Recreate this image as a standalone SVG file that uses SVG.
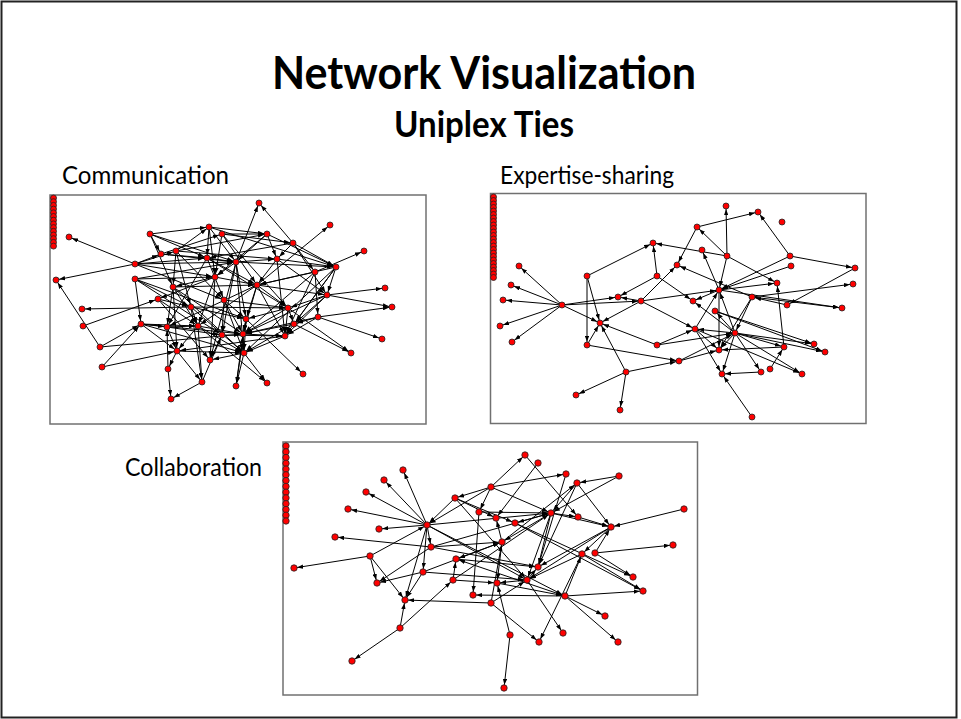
<svg xmlns="http://www.w3.org/2000/svg" width="961" height="719" viewBox="0 0 961 719">
<style>
.t{font-family:Lato,"Open Sans","Liberation Sans",sans-serif;fill:#000}
.b{font-weight:bold}
.frame{fill:none;stroke:#707070;stroke-width:1.5}
.edges line{stroke:#000;stroke-width:1;marker-end:url(#ah)}
.n{fill:#ff0000;stroke:#222;stroke-width:0.8}
</style>
<defs>
<marker id="ah" viewBox="0 0 6 4.4" refX="9.2" refY="2.2" markerWidth="6" markerHeight="4.4" markerUnits="userSpaceOnUse" orient="auto"><path d="M0,0L6,2.2L0,4.4z" fill="#000"/></marker>
</defs>
<rect x="0" y="0" width="961" height="719" fill="#fff"/>
<rect x="1.5" y="1.5" width="955" height="716" fill="none" stroke="#222" stroke-width="2"/>
<g id="titles">
<text class="t b" x="484" y="89" font-size="46" text-anchor="middle" textLength="424" lengthAdjust="spacingAndGlyphs">Network Visualization</text>
<text class="t b" x="484" y="137" font-size="36" text-anchor="middle" textLength="180" lengthAdjust="spacingAndGlyphs">Uniplex Ties</text>
<text class="t" x="62" y="184" font-size="25" textLength="167" lengthAdjust="spacingAndGlyphs">Communication</text>
<text class="t" x="500" y="184" font-size="25" textLength="174" lengthAdjust="spacingAndGlyphs">Expertise-sharing</text>
<text class="t" x="125" y="476" font-size="25" textLength="137" lengthAdjust="spacingAndGlyphs">Collaboration</text>
</g>
<g id="panel-communication">
<rect class="frame" x="50" y="195" width="376" height="229"/>
<g class="edges" id="comm-edges">
<line x1="135" y1="264" x2="69" y2="237"/><line x1="135" y1="264" x2="56" y2="280"/><line x1="100" y1="347" x2="56" y2="280"/><line x1="191" y1="307" x2="82" y2="309"/><line x1="191" y1="307" x2="288" y2="308"/>
<line x1="83" y1="326" x2="158" y2="299"/><line x1="100" y1="347" x2="141" y2="324"/><line x1="100" y1="347" x2="243" y2="334"/><line x1="102" y1="367" x2="141" y2="324"/><line x1="102" y1="367" x2="177" y2="351"/>
<line x1="236" y1="262" x2="259" y2="203"/><line x1="293" y1="243" x2="259" y2="203"/><line x1="257" y1="285" x2="330" y2="225"/><line x1="315" y1="272" x2="364" y2="251"/><line x1="327" y1="295" x2="385" y2="288"/>
<line x1="327" y1="295" x2="392" y2="307"/><line x1="318" y1="317" x2="392" y2="307"/><line x1="318" y1="317" x2="382" y2="339"/><line x1="288" y1="308" x2="351" y2="353"/><line x1="294" y1="324" x2="351" y2="353"/>
<line x1="246" y1="319" x2="303" y2="374"/><line x1="198" y1="326" x2="267" y2="383"/><line x1="168" y1="369" x2="171" y2="399"/><line x1="202" y1="382" x2="171" y2="399"/><line x1="177" y1="351" x2="168" y2="369"/>
<line x1="177" y1="351" x2="202" y2="382"/><line x1="244" y1="353" x2="236" y2="386"/><line x1="161" y1="254" x2="207" y2="258"/><line x1="161" y1="254" x2="236" y2="262"/><line x1="161" y1="254" x2="222" y2="234"/>
<line x1="176" y1="251" x2="209" y2="227"/><line x1="176" y1="251" x2="277" y2="259"/><line x1="176" y1="251" x2="267" y2="234"/><line x1="176" y1="251" x2="173" y2="287"/><line x1="176" y1="251" x2="191" y2="307"/>
<line x1="135" y1="264" x2="161" y2="254"/><line x1="135" y1="264" x2="236" y2="262"/><line x1="135" y1="264" x2="215" y2="277"/><line x1="135" y1="264" x2="224" y2="300"/><line x1="135" y1="279" x2="141" y2="324"/>
<line x1="135" y1="279" x2="236" y2="262"/><line x1="135" y1="279" x2="215" y2="277"/><line x1="135" y1="279" x2="246" y2="319"/><line x1="135" y1="279" x2="222" y2="335"/><line x1="150" y1="234" x2="161" y2="254"/>
<line x1="150" y1="234" x2="173" y2="287"/><line x1="150" y1="234" x2="236" y2="262"/><line x1="150" y1="234" x2="207" y2="258"/><line x1="209" y1="227" x2="236" y2="262"/><line x1="209" y1="227" x2="267" y2="234"/>
<line x1="209" y1="227" x2="336" y2="267"/><line x1="209" y1="227" x2="215" y2="277"/><line x1="222" y1="234" x2="267" y2="234"/><line x1="222" y1="234" x2="293" y2="243"/><line x1="222" y1="234" x2="257" y2="285"/>
<line x1="222" y1="234" x2="288" y2="308"/><line x1="267" y1="234" x2="236" y2="262"/><line x1="267" y1="234" x2="336" y2="267"/><line x1="267" y1="234" x2="215" y2="277"/><line x1="293" y1="243" x2="277" y2="259"/>
<line x1="293" y1="243" x2="207" y2="258"/><line x1="293" y1="243" x2="315" y2="272"/><line x1="293" y1="243" x2="327" y2="295"/><line x1="207" y1="258" x2="236" y2="262"/><line x1="207" y1="258" x2="257" y2="285"/>
<line x1="207" y1="258" x2="167" y2="327"/><line x1="207" y1="258" x2="288" y2="308"/><line x1="236" y1="262" x2="277" y2="259"/><line x1="236" y1="262" x2="336" y2="267"/><line x1="236" y1="262" x2="215" y2="277"/>
<line x1="236" y1="262" x2="246" y2="319"/><line x1="236" y1="262" x2="210" y2="360"/><line x1="236" y1="262" x2="244" y2="353"/><line x1="277" y1="259" x2="336" y2="267"/><line x1="277" y1="259" x2="257" y2="285"/>
<line x1="277" y1="259" x2="327" y2="295"/><line x1="277" y1="259" x2="285" y2="336"/><line x1="336" y1="267" x2="327" y2="295"/><line x1="336" y1="267" x2="257" y2="285"/><line x1="336" y1="267" x2="294" y2="324"/>
<line x1="336" y1="267" x2="285" y2="336"/><line x1="336" y1="267" x2="244" y2="353"/><line x1="315" y1="272" x2="257" y2="285"/><line x1="315" y1="272" x2="318" y2="317"/><line x1="315" y1="272" x2="243" y2="334"/>
<line x1="215" y1="277" x2="257" y2="285"/><line x1="215" y1="277" x2="173" y2="287"/><line x1="215" y1="277" x2="158" y2="299"/><line x1="215" y1="277" x2="198" y2="326"/><line x1="215" y1="277" x2="210" y2="360"/>
<line x1="173" y1="287" x2="257" y2="285"/><line x1="173" y1="287" x2="167" y2="327"/><line x1="173" y1="287" x2="243" y2="334"/><line x1="173" y1="287" x2="177" y2="351"/><line x1="257" y1="285" x2="327" y2="295"/>
<line x1="257" y1="285" x2="246" y2="319"/><line x1="257" y1="285" x2="243" y2="334"/><line x1="257" y1="285" x2="285" y2="336"/><line x1="257" y1="285" x2="198" y2="326"/><line x1="327" y1="295" x2="288" y2="308"/>
<line x1="327" y1="295" x2="294" y2="324"/><line x1="327" y1="295" x2="285" y2="336"/><line x1="158" y1="299" x2="191" y2="307"/><line x1="158" y1="299" x2="198" y2="326"/><line x1="158" y1="299" x2="210" y2="360"/>
<line x1="224" y1="300" x2="288" y2="308"/><line x1="224" y1="300" x2="246" y2="319"/><line x1="224" y1="300" x2="222" y2="335"/><line x1="224" y1="300" x2="244" y2="353"/><line x1="191" y1="307" x2="246" y2="319"/>
<line x1="191" y1="307" x2="198" y2="326"/><line x1="191" y1="307" x2="244" y2="353"/><line x1="191" y1="307" x2="202" y2="382"/><line x1="288" y1="308" x2="246" y2="319"/><line x1="288" y1="308" x2="243" y2="334"/>
<line x1="288" y1="308" x2="285" y2="336"/><line x1="246" y1="319" x2="243" y2="334"/><line x1="246" y1="319" x2="236" y2="386"/><line x1="318" y1="317" x2="294" y2="324"/><line x1="318" y1="317" x2="285" y2="336"/>
<line x1="141" y1="324" x2="167" y2="327"/><line x1="141" y1="324" x2="243" y2="334"/><line x1="141" y1="324" x2="198" y2="326"/><line x1="141" y1="324" x2="244" y2="353"/><line x1="167" y1="327" x2="198" y2="326"/>
<line x1="167" y1="327" x2="177" y2="351"/><line x1="167" y1="327" x2="222" y2="335"/><line x1="198" y1="326" x2="243" y2="334"/><line x1="198" y1="326" x2="244" y2="353"/><line x1="198" y1="326" x2="202" y2="382"/>
<line x1="198" y1="326" x2="177" y2="351"/><line x1="294" y1="324" x2="243" y2="334"/><line x1="294" y1="324" x2="244" y2="353"/><line x1="243" y1="334" x2="285" y2="336"/><line x1="222" y1="335" x2="285" y2="336"/>
<line x1="222" y1="335" x2="210" y2="360"/><line x1="285" y1="336" x2="244" y2="353"/><line x1="285" y1="336" x2="177" y2="351"/><line x1="177" y1="351" x2="244" y2="353"/><line x1="244" y1="353" x2="267" y2="383"/>
<line x1="168" y1="369" x2="167" y2="327"/><line x1="202" y1="382" x2="222" y2="335"/><line x1="236" y1="386" x2="243" y2="334"/><line x1="176" y1="251" x2="224" y2="300"/><line x1="222" y1="234" x2="215" y2="277"/>
<line x1="150" y1="234" x2="209" y2="227"/><line x1="135" y1="279" x2="191" y2="307"/><line x1="141" y1="324" x2="177" y2="351"/><line x1="327" y1="295" x2="243" y2="334"/><line x1="318" y1="317" x2="243" y2="334"/>
<line x1="315" y1="272" x2="285" y2="336"/><line x1="267" y1="234" x2="277" y2="259"/><line x1="288" y1="308" x2="294" y2="324"/><line x1="243" y1="334" x2="244" y2="353"/><line x1="257" y1="285" x2="288" y2="308"/>
<line x1="207" y1="258" x2="224" y2="300"/><line x1="135" y1="264" x2="176" y2="251"/><line x1="135" y1="264" x2="207" y2="258"/><line x1="209" y1="227" x2="207" y2="258"/><line x1="236" y1="262" x2="222" y2="335"/>
<line x1="257" y1="285" x2="167" y2="327"/><line x1="293" y1="243" x2="336" y2="267"/><line x1="173" y1="287" x2="198" y2="326"/><line x1="173" y1="287" x2="244" y2="353"/><line x1="224" y1="300" x2="243" y2="334"/>
<line x1="244" y1="353" x2="210" y2="360"/><line x1="246" y1="319" x2="244" y2="353"/>
</g>
<g id="comm-nodes">
<circle class="n" r="3" cx="53.5" cy="198"/><circle class="n" r="3" cx="53.5" cy="201.7"/><circle class="n" r="3" cx="53.5" cy="205.4"/><circle class="n" r="3" cx="53.5" cy="209.1"/><circle class="n" r="3" cx="53.5" cy="212.8"/><circle class="n" r="3" cx="53.5" cy="216.5"/><circle class="n" r="3" cx="53.5" cy="220.2"/><circle class="n" r="3" cx="53.5" cy="223.9"/><circle class="n" r="3" cx="53.5" cy="227.6"/><circle class="n" r="3" cx="53.5" cy="231.3"/><circle class="n" r="3" cx="53.5" cy="235"/><circle class="n" r="3" cx="53.5" cy="238.7"/><circle class="n" r="3" cx="53.5" cy="242.4"/><circle class="n" r="3" cx="53.5" cy="246.1"/>
<circle id="c1" class="n" r="3" cx="259" cy="203"/><circle id="c2" class="n" r="3" cx="330" cy="225"/><circle id="c3" class="n" r="3" cx="69" cy="237"/><circle id="c4" class="n" r="3" cx="150" cy="234"/><circle id="c5" class="n" r="3" cx="209" cy="227"/><circle id="c6" class="n" r="3" cx="222" cy="234"/><circle id="c7" class="n" r="3" cx="267" cy="234"/><circle id="c8" class="n" r="3" cx="293" cy="243"/><circle id="c9" class="n" r="3" cx="364" cy="251"/><circle id="c10" class="n" r="3" cx="161" cy="254"/>
<circle id="c11" class="n" r="3" cx="176" cy="251"/><circle id="c12" class="n" r="3" cx="207" cy="258"/><circle id="c13" class="n" r="3" cx="236" cy="262"/><circle id="c14" class="n" r="3" cx="277" cy="259"/><circle id="c15" class="n" r="3" cx="135" cy="264"/><circle id="c16" class="n" r="3" cx="336" cy="267"/><circle id="c17" class="n" r="3" cx="315" cy="272"/><circle id="c18" class="n" r="3" cx="56" cy="280"/><circle id="c19" class="n" r="3" cx="135" cy="279"/><circle id="c20" class="n" r="3" cx="215" cy="277"/>
<circle id="c21" class="n" r="3" cx="173" cy="287"/><circle id="c22" class="n" r="3" cx="257" cy="285"/><circle id="c23" class="n" r="3" cx="385" cy="288"/><circle id="c24" class="n" r="3" cx="327" cy="295"/><circle id="c25" class="n" r="3" cx="158" cy="299"/><circle id="c26" class="n" r="3" cx="224" cy="300"/><circle id="c27" class="n" r="3" cx="82" cy="309"/><circle id="c28" class="n" r="3" cx="191" cy="307"/><circle id="c29" class="n" r="3" cx="288" cy="308"/><circle id="c30" class="n" r="3" cx="392" cy="307"/>
<circle id="c31" class="n" r="3" cx="246" cy="319"/><circle id="c32" class="n" r="3" cx="318" cy="317"/><circle id="c33" class="n" r="3" cx="83" cy="326"/><circle id="c34" class="n" r="3" cx="141" cy="324"/><circle id="c35" class="n" r="3" cx="167" cy="327"/><circle id="c36" class="n" r="3" cx="198" cy="326"/><circle id="c37" class="n" r="3" cx="294" cy="324"/><circle id="c38" class="n" r="3" cx="243" cy="334"/><circle id="c39" class="n" r="3" cx="222" cy="335"/><circle id="c40" class="n" r="3" cx="285" cy="336"/>
<circle id="c41" class="n" r="3" cx="382" cy="339"/><circle id="c42" class="n" r="3" cx="100" cy="347"/><circle id="c43" class="n" r="3" cx="177" cy="351"/><circle id="c44" class="n" r="3" cx="244" cy="353"/><circle id="c45" class="n" r="3" cx="351" cy="353"/><circle id="c46" class="n" r="3" cx="210" cy="360"/><circle id="c47" class="n" r="3" cx="102" cy="367"/><circle id="c48" class="n" r="3" cx="168" cy="369"/><circle id="c49" class="n" r="3" cx="303" cy="374"/><circle id="c50" class="n" r="3" cx="202" cy="382"/>
<circle id="c51" class="n" r="3" cx="267" cy="383"/><circle id="c52" class="n" r="3" cx="236" cy="386"/><circle id="c53" class="n" r="3" cx="171" cy="399"/>
</g>
</g>
<g id="panel-expertise">
<rect class="frame" x="490.5" y="193.5" width="375.5" height="230"/>
<g class="edges" id="exp-edges">
<line x1="562" y1="305" x2="519" y2="266"/><line x1="562" y1="305" x2="511" y2="285"/><line x1="562" y1="305" x2="503" y2="300"/><line x1="562" y1="305" x2="500" y2="326"/><line x1="562" y1="305" x2="512" y2="342"/>
<line x1="562" y1="305" x2="618" y2="297"/><line x1="641" y1="301" x2="618" y2="297"/><line x1="562" y1="305" x2="600" y2="323"/><line x1="641" y1="301" x2="719" y2="290"/><line x1="587" y1="276" x2="653" y2="243"/>
<line x1="587" y1="276" x2="587" y2="345"/><line x1="587" y1="276" x2="600" y2="323"/><line x1="657" y1="276" x2="653" y2="243"/><line x1="657" y1="276" x2="618" y2="297"/><line x1="657" y1="276" x2="693" y2="301"/>
<line x1="641" y1="301" x2="600" y2="323"/><line x1="641" y1="301" x2="677" y2="265"/><line x1="641" y1="301" x2="695" y2="329"/><line x1="697" y1="227" x2="758" y2="212"/><line x1="697" y1="227" x2="677" y2="265"/>
<line x1="727" y1="256" x2="697" y2="227"/><line x1="727" y1="256" x2="653" y2="243"/><line x1="719" y1="290" x2="702" y2="250"/><line x1="727" y1="256" x2="726" y2="206"/><line x1="727" y1="256" x2="719" y2="290"/>
<line x1="719" y1="290" x2="719" y2="350"/><line x1="727" y1="256" x2="777" y2="283"/><line x1="587" y1="345" x2="600" y2="323"/><line x1="626" y1="372" x2="600" y2="323"/><line x1="657" y1="345" x2="600" y2="323"/>
<line x1="657" y1="345" x2="695" y2="329"/><line x1="735" y1="333" x2="695" y2="329"/><line x1="735" y1="333" x2="719" y2="350"/><line x1="735" y1="333" x2="719" y2="290"/><line x1="735" y1="333" x2="715" y2="311"/>
<line x1="735" y1="333" x2="693" y2="301"/><line x1="735" y1="333" x2="784" y2="347"/><line x1="735" y1="333" x2="814" y2="344"/><line x1="735" y1="333" x2="825" y2="352"/><line x1="735" y1="333" x2="802" y2="374"/>
<line x1="735" y1="333" x2="722" y2="374"/><line x1="735" y1="333" x2="761" y2="372"/><line x1="695" y1="329" x2="719" y2="290"/><line x1="695" y1="329" x2="722" y2="374"/><line x1="695" y1="329" x2="719" y2="350"/>
<line x1="587" y1="345" x2="679" y2="361"/><line x1="679" y1="361" x2="719" y2="350"/><line x1="626" y1="372" x2="679" y2="361"/><line x1="626" y1="372" x2="576" y2="395"/><line x1="626" y1="372" x2="620" y2="410"/>
<line x1="752" y1="417" x2="722" y2="374"/><line x1="761" y1="372" x2="722" y2="374"/><line x1="770" y1="369" x2="784" y2="347"/><line x1="784" y1="347" x2="777" y2="283"/><line x1="784" y1="347" x2="719" y2="350"/>
<line x1="752" y1="297" x2="853" y2="284"/><line x1="752" y1="297" x2="677" y2="265"/><line x1="752" y1="297" x2="842" y2="308"/><line x1="790" y1="256" x2="758" y2="212"/><line x1="790" y1="256" x2="855" y2="268"/>
<line x1="790" y1="256" x2="719" y2="290"/><line x1="791" y1="266" x2="719" y2="290"/><line x1="855" y1="268" x2="787" y2="305"/><line x1="719" y1="290" x2="777" y2="283"/><line x1="719" y1="290" x2="842" y2="308"/>
<line x1="719" y1="290" x2="693" y2="301"/><line x1="752" y1="297" x2="735" y2="333"/><line x1="715" y1="311" x2="814" y2="344"/><line x1="695" y1="329" x2="802" y2="374"/><line x1="657" y1="345" x2="735" y2="333"/>
<line x1="679" y1="361" x2="735" y2="333"/><line x1="787" y1="305" x2="752" y2="297"/><line x1="715" y1="311" x2="825" y2="352"/><line x1="752" y1="297" x2="719" y2="350"/><line x1="562" y1="305" x2="641" y2="301"/>
</g>
<g id="exp-nodes">
<circle class="n" r="3" cx="493.5" cy="197"/><circle class="n" r="3" cx="493.5" cy="200.5"/><circle class="n" r="3" cx="493.5" cy="204"/><circle class="n" r="3" cx="493.5" cy="207.5"/><circle class="n" r="3" cx="493.5" cy="211"/><circle class="n" r="3" cx="493.5" cy="214.5"/><circle class="n" r="3" cx="493.5" cy="218"/><circle class="n" r="3" cx="493.5" cy="221.5"/><circle class="n" r="3" cx="493.5" cy="225"/><circle class="n" r="3" cx="493.5" cy="228.5"/><circle class="n" r="3" cx="493.5" cy="232"/><circle class="n" r="3" cx="493.5" cy="235.5"/>
<circle class="n" r="3" cx="493.5" cy="239"/><circle class="n" r="3" cx="493.5" cy="242.5"/><circle class="n" r="3" cx="493.5" cy="246"/><circle class="n" r="3" cx="493.5" cy="249.5"/><circle class="n" r="3" cx="493.5" cy="253"/><circle class="n" r="3" cx="493.5" cy="256.5"/><circle class="n" r="3" cx="493.5" cy="260"/><circle class="n" r="3" cx="493.5" cy="263.5"/><circle class="n" r="3" cx="493.5" cy="267"/><circle class="n" r="3" cx="493.5" cy="270.5"/><circle class="n" r="3" cx="493.5" cy="274"/><circle class="n" r="3" cx="493.5" cy="277.5"/>
<circle id="e1" class="n" r="3" cx="726" cy="206"/><circle id="e2" class="n" r="3" cx="758" cy="212"/><circle id="e3" class="n" r="3" cx="782" cy="222"/><circle id="e4" class="n" r="3" cx="697" cy="227"/><circle id="e5" class="n" r="3" cx="653" cy="243"/><circle id="e6" class="n" r="3" cx="702" cy="250"/><circle id="e7" class="n" r="3" cx="727" cy="256"/><circle id="e8" class="n" r="3" cx="790" cy="256"/><circle id="e9" class="n" r="3" cx="677" cy="265"/><circle id="e10" class="n" r="3" cx="791" cy="266"/>
<circle id="e11" class="n" r="3" cx="855" cy="268"/><circle id="e12" class="n" r="3" cx="519" cy="266"/><circle id="e13" class="n" r="3" cx="587" cy="276"/><circle id="e14" class="n" r="3" cx="657" cy="276"/><circle id="e15" class="n" r="3" cx="777" cy="283"/><circle id="e16" class="n" r="3" cx="853" cy="284"/><circle id="e17" class="n" r="3" cx="511" cy="285"/><circle id="e18" class="n" r="3" cx="719" cy="290"/><circle id="e19" class="n" r="3" cx="503" cy="300"/><circle id="e20" class="n" r="3" cx="562" cy="305"/>
<circle id="e21" class="n" r="3" cx="618" cy="297"/><circle id="e22" class="n" r="3" cx="641" cy="301"/><circle id="e23" class="n" r="3" cx="693" cy="301"/><circle id="e24" class="n" r="3" cx="752" cy="297"/><circle id="e25" class="n" r="3" cx="787" cy="305"/><circle id="e26" class="n" r="3" cx="842" cy="308"/><circle id="e27" class="n" r="3" cx="715" cy="311"/><circle id="e28" class="n" r="3" cx="500" cy="326"/><circle id="e29" class="n" r="3" cx="600" cy="323"/><circle id="e30" class="n" r="3" cx="695" cy="329"/>
<circle id="e31" class="n" r="3" cx="735" cy="333"/><circle id="e32" class="n" r="3" cx="512" cy="342"/><circle id="e33" class="n" r="3" cx="587" cy="345"/><circle id="e34" class="n" r="3" cx="657" cy="345"/><circle id="e35" class="n" r="3" cx="719" cy="350"/><circle id="e36" class="n" r="3" cx="784" cy="347"/><circle id="e37" class="n" r="3" cx="814" cy="344"/><circle id="e38" class="n" r="3" cx="825" cy="352"/><circle id="e39" class="n" r="3" cx="679" cy="361"/><circle id="e40" class="n" r="3" cx="626" cy="372"/>
<circle id="e41" class="n" r="3" cx="722" cy="374"/><circle id="e42" class="n" r="3" cx="761" cy="372"/><circle id="e43" class="n" r="3" cx="770" cy="369"/><circle id="e44" class="n" r="3" cx="802" cy="374"/><circle id="e45" class="n" r="3" cx="576" cy="395"/><circle id="e46" class="n" r="3" cx="620" cy="410"/><circle id="e47" class="n" r="3" cx="752" cy="417"/>
</g>
</g>
<g id="panel-collaboration">
<rect class="frame" x="283" y="442" width="414.5" height="253"/>
<g class="edges" id="collab-edges">
<line x1="427" y1="525" x2="403" y2="470"/><line x1="427" y1="525" x2="384" y2="480"/><line x1="427" y1="525" x2="366" y2="492"/><line x1="427" y1="525" x2="348" y2="509"/><line x1="427" y1="525" x2="379" y2="529"/>
<line x1="431" y1="547" x2="335" y2="537"/><line x1="431" y1="547" x2="377" y2="583"/><line x1="370" y1="556" x2="294" y2="568"/><line x1="370" y1="556" x2="427" y2="525"/><line x1="370" y1="556" x2="377" y2="583"/>
<line x1="370" y1="556" x2="405" y2="600"/><line x1="400" y1="628" x2="352" y2="661"/><line x1="400" y1="628" x2="405" y2="600"/><line x1="400" y1="628" x2="453" y2="580"/><line x1="491" y1="603" x2="405" y2="600"/>
<line x1="491" y1="603" x2="539" y2="642"/><line x1="510" y1="635" x2="504" y2="688"/><line x1="510" y1="635" x2="497" y2="583"/><line x1="565" y1="596" x2="643" y2="591"/><line x1="565" y1="596" x2="605" y2="616"/>
<line x1="565" y1="596" x2="618" y2="642"/><line x1="565" y1="596" x2="473" y2="595"/><line x1="565" y1="596" x2="456" y2="559"/><line x1="565" y1="596" x2="582" y2="554"/><line x1="595" y1="553" x2="673" y2="545"/>
<line x1="582" y1="554" x2="539" y2="642"/><line x1="684" y1="509" x2="611" y2="527"/><line x1="577" y1="483" x2="611" y2="527"/><line x1="619" y1="476" x2="577" y2="483"/><line x1="619" y1="476" x2="551" y2="513"/>
<line x1="491" y1="487" x2="525" y2="455"/><line x1="491" y1="487" x2="455" y2="498"/><line x1="491" y1="487" x2="551" y2="513"/><line x1="491" y1="487" x2="479" y2="512"/><line x1="491" y1="487" x2="427" y2="525"/>
<line x1="491" y1="487" x2="566" y2="474"/><line x1="566" y1="474" x2="538" y2="567"/><line x1="525" y1="455" x2="578" y2="517"/><line x1="538" y1="463" x2="496" y2="518"/><line x1="455" y1="498" x2="496" y2="518"/>
<line x1="455" y1="498" x2="515" y2="523"/><line x1="455" y1="498" x2="527" y2="580"/><line x1="455" y1="498" x2="427" y2="525"/><line x1="479" y1="512" x2="473" y2="595"/><line x1="479" y1="512" x2="551" y2="513"/>
<line x1="551" y1="513" x2="578" y2="517"/><line x1="551" y1="513" x2="538" y2="567"/><line x1="551" y1="513" x2="527" y2="580"/><line x1="551" y1="513" x2="502" y2="542"/><line x1="551" y1="513" x2="515" y2="523"/>
<line x1="515" y1="523" x2="633" y2="577"/><line x1="515" y1="523" x2="643" y2="591"/><line x1="502" y1="542" x2="456" y2="559"/><line x1="502" y1="542" x2="577" y2="483"/><line x1="502" y1="542" x2="497" y2="583"/>
<line x1="502" y1="542" x2="496" y2="518"/><line x1="431" y1="547" x2="502" y2="542"/><line x1="456" y1="559" x2="538" y2="567"/><line x1="423" y1="572" x2="377" y2="583"/><line x1="423" y1="572" x2="405" y2="600"/>
<line x1="423" y1="572" x2="527" y2="580"/><line x1="423" y1="572" x2="502" y2="542"/><line x1="453" y1="580" x2="497" y2="583"/><line x1="453" y1="580" x2="456" y2="559"/><line x1="453" y1="580" x2="551" y2="513"/>
<line x1="527" y1="580" x2="497" y2="583"/><line x1="527" y1="580" x2="538" y2="567"/><line x1="527" y1="580" x2="563" y2="633"/><line x1="497" y1="583" x2="565" y2="596"/><line x1="427" y1="525" x2="527" y2="580"/>
<line x1="427" y1="525" x2="431" y2="547"/><line x1="427" y1="525" x2="551" y2="513"/><line x1="427" y1="525" x2="565" y2="596"/><line x1="611" y1="527" x2="538" y2="567"/><line x1="611" y1="527" x2="527" y2="580"/>
<line x1="611" y1="527" x2="582" y2="554"/><line x1="578" y1="517" x2="611" y2="527"/><line x1="582" y1="554" x2="527" y2="580"/><line x1="595" y1="553" x2="611" y2="527"/><line x1="431" y1="547" x2="538" y2="567"/>
<line x1="431" y1="547" x2="551" y2="513"/><line x1="577" y1="483" x2="551" y2="513"/><line x1="577" y1="483" x2="538" y2="567"/><line x1="551" y1="513" x2="611" y2="527"/><line x1="595" y1="553" x2="633" y2="577"/>
<line x1="582" y1="554" x2="643" y2="591"/><line x1="491" y1="603" x2="502" y2="542"/><line x1="491" y1="603" x2="527" y2="580"/><line x1="427" y1="525" x2="405" y2="600"/><line x1="427" y1="525" x2="423" y2="572"/>
</g>
<g id="collab-nodes">
<circle class="n" r="3.2" cx="286" cy="446"/><circle class="n" r="3.2" cx="286" cy="451.8"/><circle class="n" r="3.2" cx="286" cy="457.5"/><circle class="n" r="3.2" cx="286" cy="463.3"/><circle class="n" r="3.2" cx="286" cy="469.1"/><circle class="n" r="3.2" cx="286" cy="474.8"/><circle class="n" r="3.2" cx="286" cy="480.6"/><circle class="n" r="3.2" cx="286" cy="486.4"/><circle class="n" r="3.2" cx="286" cy="492.2"/><circle class="n" r="3.2" cx="286" cy="497.9"/><circle class="n" r="3.2" cx="286" cy="503.7"/><circle class="n" r="3.2" cx="286" cy="509.5"/><circle class="n" r="3.2" cx="286" cy="515.2"/><circle class="n" r="3.2" cx="286" cy="521"/>
<circle id="k1" class="n" r="3.2" cx="525" cy="455"/><circle id="k2" class="n" r="3.2" cx="538" cy="463"/><circle id="k3" class="n" r="3.2" cx="403" cy="470"/><circle id="k4" class="n" r="3.2" cx="566" cy="474"/><circle id="k5" class="n" r="3.2" cx="619" cy="476"/><circle id="k6" class="n" r="3.2" cx="384" cy="480"/><circle id="k7" class="n" r="3.2" cx="577" cy="483"/><circle id="k8" class="n" r="3.2" cx="491" cy="487"/><circle id="k9" class="n" r="3.2" cx="366" cy="492"/><circle id="k10" class="n" r="3.2" cx="455" cy="498"/>
<circle id="k11" class="n" r="3.2" cx="684" cy="509"/><circle id="k12" class="n" r="3.2" cx="348" cy="509"/><circle id="k13" class="n" r="3.2" cx="479" cy="512"/><circle id="k14" class="n" r="3.2" cx="551" cy="513"/><circle id="k15" class="n" r="3.2" cx="578" cy="517"/><circle id="k16" class="n" r="3.2" cx="496" cy="518"/><circle id="k17" class="n" r="3.2" cx="515" cy="523"/><circle id="k18" class="n" r="3.2" cx="427" cy="525"/><circle id="k19" class="n" r="3.2" cx="611" cy="527"/><circle id="k20" class="n" r="3.2" cx="379" cy="529"/>
<circle id="k21" class="n" r="3.2" cx="335" cy="537"/><circle id="k22" class="n" r="3.2" cx="502" cy="542"/><circle id="k23" class="n" r="3.2" cx="673" cy="545"/><circle id="k24" class="n" r="3.2" cx="431" cy="547"/><circle id="k25" class="n" r="3.2" cx="370" cy="556"/><circle id="k26" class="n" r="3.2" cx="582" cy="554"/><circle id="k27" class="n" r="3.2" cx="595" cy="553"/><circle id="k28" class="n" r="3.2" cx="294" cy="568"/><circle id="k29" class="n" r="3.2" cx="456" cy="559"/><circle id="k30" class="n" r="3.2" cx="538" cy="567"/>
<circle id="k31" class="n" r="3.2" cx="423" cy="572"/><circle id="k32" class="n" r="3.2" cx="633" cy="577"/><circle id="k33" class="n" r="3.2" cx="377" cy="583"/><circle id="k34" class="n" r="3.2" cx="453" cy="580"/><circle id="k35" class="n" r="3.2" cx="497" cy="583"/><circle id="k36" class="n" r="3.2" cx="527" cy="580"/><circle id="k37" class="n" r="3.2" cx="643" cy="591"/><circle id="k38" class="n" r="3.2" cx="473" cy="595"/><circle id="k39" class="n" r="3.2" cx="565" cy="596"/><circle id="k40" class="n" r="3.2" cx="405" cy="600"/>
<circle id="k41" class="n" r="3.2" cx="491" cy="603"/><circle id="k42" class="n" r="3.2" cx="605" cy="616"/><circle id="k43" class="n" r="3.2" cx="400" cy="628"/><circle id="k44" class="n" r="3.2" cx="563" cy="633"/><circle id="k45" class="n" r="3.2" cx="510" cy="635"/><circle id="k46" class="n" r="3.2" cx="539" cy="642"/><circle id="k47" class="n" r="3.2" cx="618" cy="642"/><circle id="k48" class="n" r="3.2" cx="352" cy="661"/><circle id="k49" class="n" r="3.2" cx="504" cy="688"/>
</g>
</g>
</svg>
